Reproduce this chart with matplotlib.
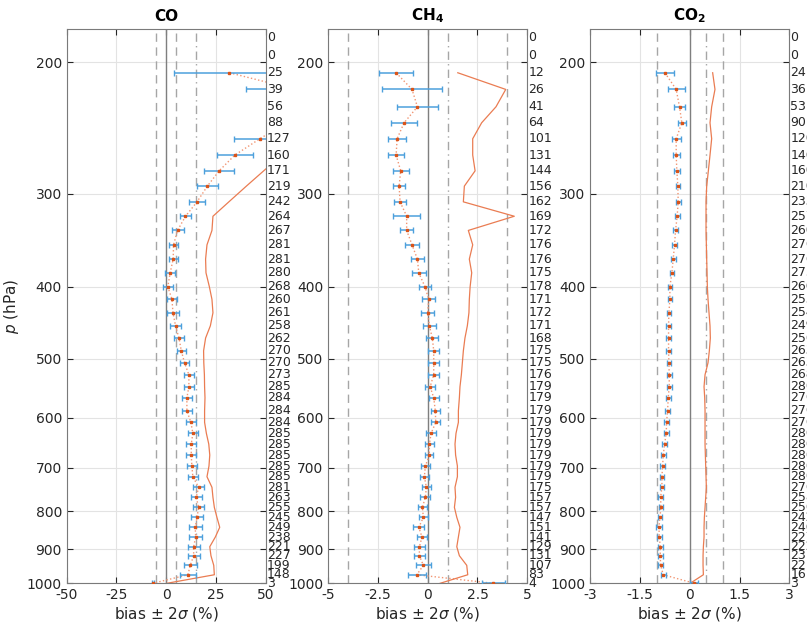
import numpy as np
import matplotlib
matplotlib.use('Agg')
import matplotlib.pyplot as plt
import matplotlib.transforms as mtransforms
from matplotlib.ticker import FixedLocator, NullLocator

nan = np.nan

# pressure levels (hPa), top to bottom
p_levels = [185.1, 195.5, 206.5, 217.4, 229.4, 241.0, 253.2, 266.3, 279.6, 293.1,
            307.7, 321.7, 336.1, 351.4, 367.3, 383.1, 400.0, 415.9, 433.5, 451.3,
            468.7, 487.5, 505.9, 525.0, 544.8, 563.6, 586.7, 608.1, 629.2, 650.4,
            672.8, 696.0, 719.4, 743.3, 766.7, 790.8, 815.6, 841.1, 866.7, 893.1,
            918.3, 946.0, 973.9, 1000.0]

# CO
co_bias = [nan, nan, 31.8, 65, 65, 60, 47.1, 34.5, 26.6, 20.7, 15.5, 9.7, 5.7, 3.7,
           3.5, 2.0, 0.8, 2.9, 3.4, 4.7, 6.4, 7.6, 9.2, 11.4, 11.4, 10.4, 10.4, 12.4,
           13.4, 12.6, 12.6, 12.9, 13.4, 16.3, 15.1, 16.3, 15.5, 14.6, 14.8, 13.8,
           13.8, 12.1, 10.9, -6.7]
co_err = [nan, nan, 27.9, 25, 10, 8, 12.8, 9.1, 7.4, 5.4, 4.0, 2.8, 3.0, 2.4, 2.3,
          2.4, 2.6, 2.7, 2.9, 2.8, 2.5, 2.4, 2.4, 2.4, 2.4, 2.5, 2.4, 2.4, 2.5, 2.5,
          2.5, 2.5, 2.4, 2.7, 2.8, 2.9, 3.0, 3.3, 3.4, 3.0, 3.0, 3.4, 4.0, 0.5]
co_line = [nan, nan, 70, 72, 68, 66, 64, 58, 49, 40.3, 31.5, 23.5, 23.0, 20.5, 19.8,
           20.0, 21.7, 23.0, 23.5, 22.2, 19.8, 18.8, 18.9, 19.2, 19.3, 19.5, 19.3,
           19.3, 20.2, 21.4, 21.9, 21.5, 20.5, 23.0, 23.5, 24.2, 25.5, 26.9, 24.7,
           21.9, 22.5, 23.9, 24.2, 0.3]
co_n = [0, 0, 25, 39, 56, 88, 127, 160, 171, 219, 242, 264, 267, 281, 281, 280, 268,
        260, 261, 258, 262, 270, 270, 273, 285, 284, 284, 284, 285, 285, 285, 285,
        285, 281, 263, 255, 245, 249, 238, 221, 227, 199, 148, 3]

# CH4
ch4_bias = [nan, nan, -1.59, -0.79, -0.52, -1.19, -1.54, -1.59, -1.36, -1.44, -1.39,
            -1.06, -1.06, -0.79, -0.52, -0.45, -0.14, 0.05, 0.0, 0.08, 0.23, 0.3, 0.3,
            0.3, 0.12, 0.3, 0.38, 0.4, 0.17, 0.08, 0.08, -0.12, -0.17, -0.07, -0.12,
            -0.27, -0.22, -0.45, -0.29, -0.42, -0.42, -0.22, -0.55, 3.3]
ch4_err = [nan, nan, 0.87, 1.53, 1.05, 0.67, 0.45, 0.39, 0.4, 0.32, 0.3, 0.67, 0.31,
           0.34, 0.31, 0.34, 0.31, 0.32, 0.32, 0.31, 0.3, 0.27, 0.27, 0.27, 0.25, 0.25,
           0.23, 0.23, 0.25, 0.23, 0.2, 0.23, 0.23, 0.23, 0.25, 0.24, 0.23, 0.27, 0.25,
           0.28, 0.28, 0.36, 0.46, 0.57]
ch4_line = [nan, nan, 1.51, 3.92, 3.43, 2.71, 2.26, 2.26, 2.38, 1.84, 1.79, 4.35, 2.04,
            2.26, 2.09, 2.21, 2.13, 2.09, 2.07, 1.99, 1.87, 1.79, 1.74, 1.69, 1.62,
            1.59, 1.54, 1.54, 1.42, 1.37, 1.4, 1.49, 1.49, 1.37, 1.4, 1.34, 1.46, 1.62,
            1.54, 1.46, 1.59, 1.96, 2.01, 0.62]
ch4_n = [0, 0, 12, 26, 41, 64, 101, 131, 144, 156, 162, 169, 172, 176, 176, 175, 178,
         171, 172, 171, 168, 175, 175, 176, 179, 179, 179, 179, 179, 179, 179, 179,
         179, 175, 157, 157, 147, 151, 141, 129, 131, 107, 83, 4]

# CO2
co2_bias = [nan, nan, -0.75, -0.41, -0.31, -0.24, -0.41, -0.41, -0.39, -0.36, -0.35,
            -0.38, -0.43, -0.46, -0.5, -0.54, -0.6, -0.6, -0.63, -0.64, -0.64, -0.64,
            -0.63, -0.62, -0.62, -0.65, -0.67, -0.7, -0.71, -0.76, -0.8, -0.82, -0.84,
            -0.84, -0.88, -0.87, -0.9, -0.93, -0.92, -0.89, -0.89, -0.88, -0.8, 0.14]
co2_err = [nan, nan, 0.28, 0.26, 0.17, 0.12, 0.13, 0.1, 0.1, 0.07, 0.07, 0.07, 0.07,
           0.07, 0.07, 0.07, 0.07, 0.07, 0.07, 0.07, 0.07, 0.07, 0.07, 0.07, 0.07, 0.07,
           0.07, 0.07, 0.07, 0.07, 0.07, 0.07, 0.07, 0.07, 0.07, 0.07, 0.07, 0.08, 0.08,
           0.08, 0.08, 0.08, 0.08, 0.12]
co2_line = [nan, nan, 0.69, 0.76, 0.66, 0.61, 0.66, 0.61, 0.56, 0.51, 0.49, 0.49, 0.49,
            0.5, 0.51, 0.52, 0.53, 0.55, 0.58, 0.61, 0.62, 0.59, 0.55, 0.46, 0.43, 0.45,
            0.46, 0.46, 0.46, 0.46, 0.47, 0.48, 0.49, 0.5, 0.48, 0.46, 0.44, 0.43, 0.43,
            0.41, 0.4, 0.4, 0.41, 0.01]
co2_n = [0, 0, 24, 36, 53, 90, 120, 146, 160, 210, 233, 257, 260, 276, 276, 275, 266,
         253, 254, 249, 250, 263, 263, 268, 280, 276, 276, 276, 280, 280, 280, 280, 280,
         276, 258, 250, 242, 246, 227, 222, 231, 221, 161, 3]

titles = ['CO', r'CH$_\mathbf{4}$', r'CO$_\mathbf{2}$']
xlims = [50, 5, 3]
xticks = [[-50, -25, 0, 25, 50], [-5, -2.5, 0, 2.5, 5], [-3, -1.5, 0, 1.5, 3]]
xticklabels = [['-50', '-25', '0', '25', '50'], ['-5', '-2.5', '0', '2.5', '5'],
               ['-3', '-1.5', '0', '1.5', '3']]
thresh = [5, 4, 1]       # dashed lines at +-thresh
thresh2 = [15, 1, 0.5]   # dash-dot line
yticks = [200, 300, 400, 500, 600, 700, 800, 900, 1000]

panels = [(co_bias, co_err, co_line, co_n),
          (ch4_bias, ch4_err, ch4_line, ch4_n),
          (co2_bias, co2_err, co2_line, co2_n)]

plt.rcParams['axes.unicode_minus'] = False
txtc = '#262626'
blue = '#4da0dc'
orange = '#d95319'

fig = plt.figure(figsize=(8.07, 6.23), dpi=100)
lefts = [0.0827, 0.4068, 0.7315]
p = np.array(p_levels)

for i, (bias, err, line, n) in enumerate(panels):
    ax = fig.add_axes([lefts[i], 0.0637, 0.2465, 0.8897])
    bias = np.array(bias, float)
    err = np.array(err, float)
    line = np.array(line, float)

    ax.axvline(0, color='#7f7f7f', lw=1.0, zorder=1)
    for s in (-1, 1):
        ax.axvline(s * thresh[i], color='#a6a6a6', lw=1.0, ls=(0, (6, 4)), zorder=1)
    ax.axvline(thresh2[i], color='#a6a6a6', lw=1.0, ls=(0, (6, 3, 1, 3)), zorder=1)

    ax.errorbar(bias, p, xerr=err, fmt='none', ecolor=blue, elinewidth=1.1,
                capsize=2.2, capthick=1.0, zorder=3)
    ax.plot(bias, p, ':', color='#f29572', lw=1.0, zorder=2)
    ax.plot(bias, p, 's', color=orange, ms=2.0, mec=orange, zorder=4)
    ax.plot(line, p, '-', color='#ea7c52', lw=0.9, zorder=2)

    ax.set_yscale('log')
    ax.set_ylim(1000, 180.4)
    ax.yaxis.set_major_locator(FixedLocator(yticks))
    ax.yaxis.set_minor_locator(NullLocator())
    ax.set_yticklabels([str(t) for t in yticks])
    ax.set_xlim(-xlims[i], xlims[i])
    ax.set_xticks(xticks[i])
    ax.set_xticklabels(xticklabels[i])
    ax.grid(True, color='#e3e3e3', lw=0.8, zorder=0)
    ax.set_axisbelow(True)
    ax.tick_params(direction='in', top=True, right=True, length=4,
                   labelsize=10, colors=txtc, width=0.8)
    for sp in ax.spines.values():
        sp.set_color('#7a7a7a')
        sp.set_linewidth(0.8)

    # number of samples per level, written just right of each panel
    trans = mtransforms.blended_transform_factory(ax.transAxes, ax.transData)
    for pv, nv in zip(p_levels, n):
        ax.text(1.005, pv, str(nv), transform=trans, ha='left', va='center',
                fontsize=9, color=txtc, clip_on=False)

    ax.set_title(titles[i], fontsize=11, fontweight='bold', color='black', pad=6)
    ax.set_xlabel('bias $\\pm$ 2$\\sigma$ (%)', fontsize=11, color=txtc, labelpad=2)
    if i == 0:
        ax.set_ylabel('$p$ (hPa)', fontsize=11, color=txtc)

fig.savefig('out.png', dpi=100)
